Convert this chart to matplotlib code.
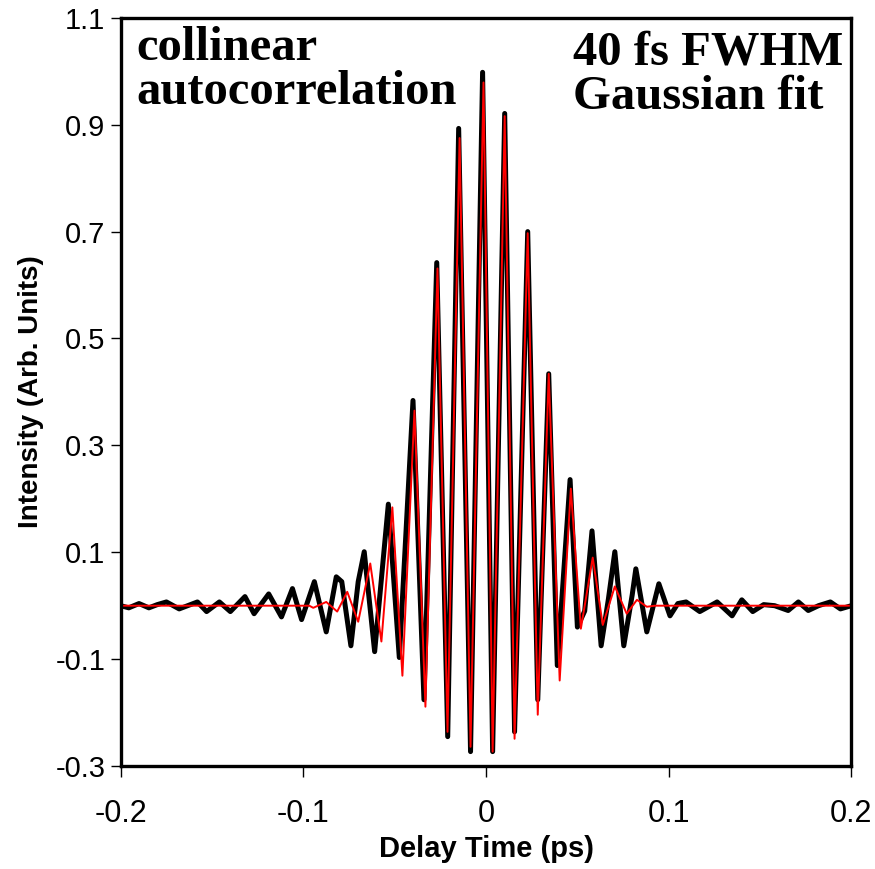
import numpy as np
import matplotlib.pyplot as plt

meas_t = [-0.200, -0.1956, -0.190, -0.1846, -0.180, -0.175, -0.168, -0.158, -0.153,
          -0.146, -0.140, -0.132, -0.127, -0.119, -0.112, -0.106, -0.101, -0.094,
          -0.0875, -0.082, -0.079, -0.074, -0.070, -0.0667, -0.061, -0.0535, -0.0475,
          -0.040, -0.034, -0.027, -0.021, -0.015, -0.0085, -0.0019, 0.0036, 0.0102,
          0.0156, 0.0228, 0.0283, 0.0343, 0.039, 0.046, 0.050, 0.054, 0.058, 0.063,
          0.067, 0.0705, 0.0754, 0.080, 0.082, 0.088, 0.0946, 0.1007, 0.105, 0.1095,
          0.117, 0.1265, 0.1347, 0.140, 0.146, 0.152, 0.158, 0.1654, 0.171, 0.1764,
          0.182, 0.1885, 0.194, 0.200]
meas_v = [0.000, -0.004, 0.004, -0.004, 0.002, 0.007, -0.006, 0.007, -0.011,
          0.007, -0.011, 0.017, -0.015, 0.022, -0.021, 0.032, -0.026, 0.045,
          -0.049, 0.054, 0.045, -0.075, 0.045, 0.101, -0.086, 0.19, -0.097,
          0.384, -0.176, 0.642, -0.245, 0.893, -0.273, 0.998, -0.273, 0.921,
          -0.236, 0.700, -0.176, 0.434, -0.112, 0.236, -0.04, -0.01, 0.14, -0.075,
          0.013, 0.101, -0.075, 0.02, 0.069, -0.049, 0.041, -0.019, 0.004, 0.007,
          -0.011, 0.007, -0.019, 0.011, -0.011, 0.002, 0.0, -0.009, 0.007, -0.009,
          0.0, 0.007, -0.006, 0.0]

# Gaussian fit
fit_t = [-0.200, -0.0968, -0.0946, -0.0875, -0.0815, -0.076, -0.070, -0.0634, -0.0573,
         -0.0513, -0.0458, -0.0392, -0.0332, -0.0266, -0.0211, -0.0145, -0.0085,
         -0.0014, 0.0036, 0.0102, 0.0156, 0.0228, 0.0283, 0.0343, 0.0403, 0.0464,
         0.0519, 0.0584, 0.0639, 0.0705, 0.077, 0.0826, 0.088, 0.0925, 0.200]
fit_v = [0.0, 0.0, -0.004, 0.007, -0.011, 0.026, -0.030, 0.079, -0.067,
         0.184, -0.131, 0.365, -0.189, 0.631, -0.236, 0.875, -0.264,
         0.979, -0.273, 0.916, -0.249, 0.697, -0.204, 0.434, -0.140, 0.219,
         -0.043, 0.09, -0.036, 0.036, -0.015, 0.011, -0.002, 0.0, 0.0]

xticks = [-0.2, -0.1, 0, 0.1, 0.2]
xticklabels = ['-0.2', '-0.1', '0', '0.1', '0.2']
yticks = [-0.3, -0.1, 0.1, 0.3, 0.5, 0.7, 0.9, 1.1]

fig = plt.figure(figsize=(8.75, 8.69), dpi=100)
ax = fig.add_axes([0.138, 0.1185, 0.835, 0.861])

ax.plot(meas_t, meas_v, color='black', lw=3.6, solid_joinstyle='round')
ax.plot(fit_t, fit_v, color='red', lw=1.4, solid_joinstyle='round')

ax.set_xlim(-0.2, 0.2)
ax.set_ylim(-0.3, 1.1)

for s in ax.spines.values():
    s.set_linewidth(2.4)

narrow = ['Liberation Sans Narrow', 'Liberation Sans']
ax.set_xticks(xticks)
ax.set_xticklabels(xticklabels, family=narrow, fontsize=22)
ax.set_yticks(yticks)
ax.set_yticklabels([f'{v:.1f}' for v in yticks], family='Liberation Sans', fontsize=21)
ax.tick_params(axis='x', direction='out', length=8, width=1, pad=16)
ax.tick_params(axis='y', direction='out', length=7, width=1, pad=4)

ax.set_xlabel('Delay Time (ps)', family=narrow, fontsize=21, fontweight='bold', labelpad=4)
ax.set_ylabel('Intensity (Arb. Units)', family='Liberation Sans', fontsize=20,
              fontweight='bold', labelpad=8)

ax.text(0.022, 0.989, 'collinear\nautocorrelation', transform=ax.transAxes,
        family='Liberation Serif', fontweight='bold', fontsize=35, va='top', ha='left',
        linespacing=1.0)
ax.text(0.619, 0.983, '40 fs FWHM\nGaussian fit', transform=ax.transAxes,
        family='Liberation Serif', fontweight='bold', fontsize=35, va='top', ha='left',
        linespacing=1.0)

fig.savefig('out.png', dpi=100)
